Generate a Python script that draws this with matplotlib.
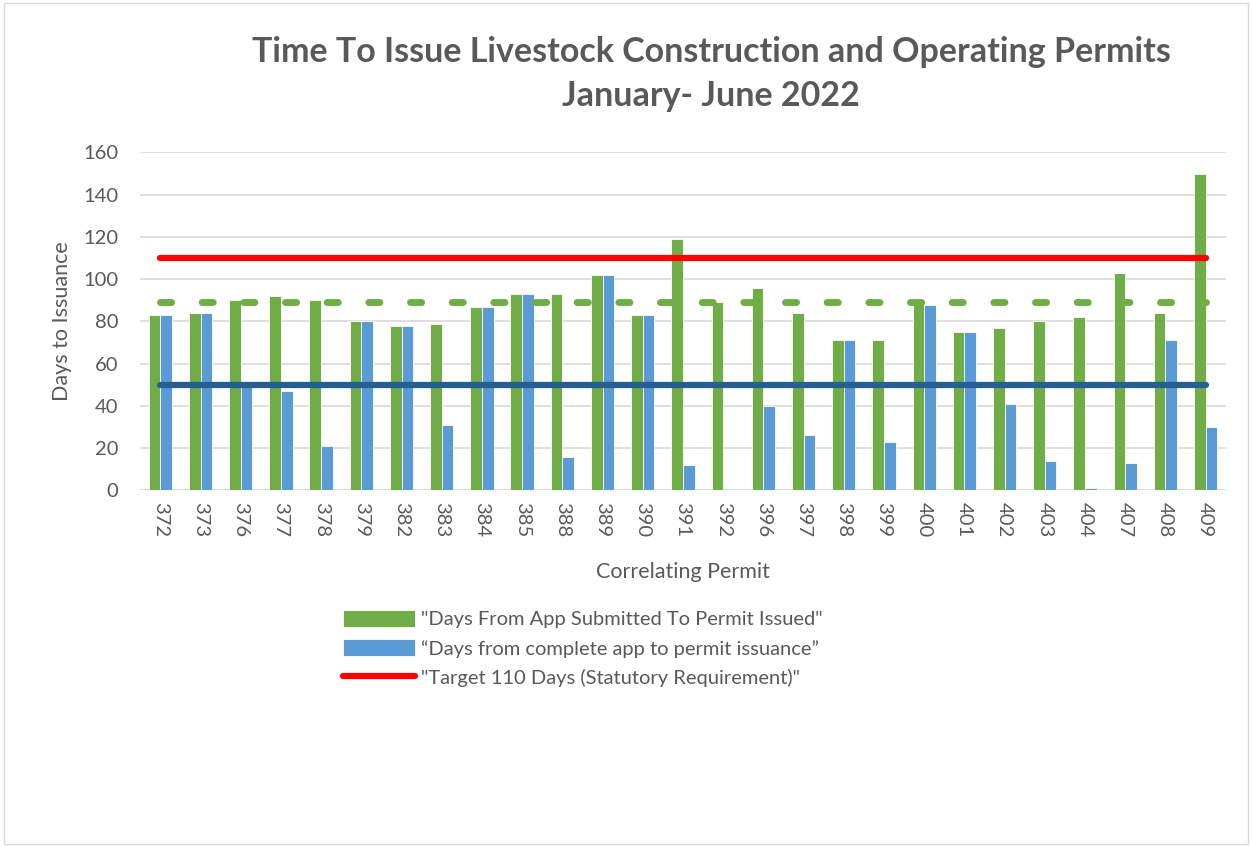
import numpy as np
import matplotlib
matplotlib.use("Agg")
import matplotlib.pyplot as plt
from matplotlib.patches import Rectangle

plt.rcParams['font.family'] = ['Lato', 'DejaVu Sans']

# permit numbers and day counts
permits = ["372", "373", "376", "377", "378", "379", "382", "383", "384", "385",
           "388", "389", "390", "391", "392", "396", "397", "398", "399", "400",
           "401", "402", "403", "404", "407", "408", "409"]
days_submitted = [83, 84, 90, 92, 90, 80, 78, 79, 87, 93,
                  93, 102, 83, 119, 89, 96, 84, 71, 71, 90,
                  75, 77, 80, 82, 103, 84, 150]
days_complete = [83, 84, 50, 47, 21, 80, 78, 31, 87, 93,
                 16, 102, 83, 12, 0, 40, 26, 71, 23, 88,
                 75, 41, 14, 1, 13, 71, 30]
target_days = 110
avg_submitted = 89
avg_complete = 50

green = "#70ad47"
blue = "#5b9bd5"
text_col = "#595959"

fig = plt.figure(figsize=(12.52, 8.47), dpi=100)
ax = fig.add_axes([0.112, 0.421, 0.867, 0.399])

x = np.arange(len(permits))
w = 0.29
b1 = ax.bar(x - w / 2, days_submitted, w, color=green, edgecolor="white", linewidth=0.6,
            label='"Days From App Submitted To Permit Issued"', zorder=2)
b2 = ax.bar(x + w / 2, days_complete, w, color=blue, edgecolor="white", linewidth=0.6,
            label='\u201cDays from complete app to permit issuance\u201d', zorder=2)
l1, = ax.plot(x, [target_days] * len(x), color="#ff0000", lw=4.5, solid_capstyle="round",
              label='"Target 110 Days (Statutory Requirement)"', zorder=3)
# dashed average line: short round dashes, one per category
ax.plot(x, [avg_submitted] * len(x), color=green, lw=5, dashes=(1.6, 4.4),
        dash_capstyle="round", zorder=3)
ax.plot(x, [avg_complete] * len(x), color="#255e91", lw=4.5, solid_capstyle="round", zorder=3)

ax.set_xlim(-0.5, len(x) - 0.5)
ax.set_ylim(0, 160)
ax.set_yticks(range(0, 161, 20))
ax.set_xticks(x)
ax.set_xticklabels(permits, rotation=-90)
ax.tick_params(axis="both", length=0, labelsize=14.5, colors=text_col)
ax.tick_params(axis="y", pad=16)
ax.tick_params(axis="x", pad=8)
ax.grid(axis="y", color="#d9d9d9", lw=1.2, zorder=0)
for s in ax.spines.values():
    s.set_visible(False)
ax.axhline(0, color="#d9d9d9", lw=1.2, zorder=1)

ax.set_ylabel("Days to Issuance", fontsize=15.5, color=text_col, labelpad=8)
ax.set_xlabel("Correlating Permit", fontsize=15.5, color=text_col, labelpad=18)

fig.text(0.568, 0.913, "Time To Issue Livestock Construction and Operating Permits\nJanuary- June 2022",
         ha="center", va="center", fontsize=24.5, fontweight="bold", color=text_col, linespacing=1.45)

ax.legend(handles=[b1, b2, l1], loc="upper left", bbox_to_anchor=(0.17, -0.3), frameon=False,
          fontsize=14.5, labelcolor=text_col, handlelength=3.6, handleheight=0.9,
          labelspacing=0.55, handletextpad=0.3)

fig.patches.append(Rectangle((0.003, 0.003), 0.994, 0.994, transform=fig.transFigure,
                             fill=False, edgecolor="#d9d9d9", lw=1))

fig.savefig("out.png", dpi=100)
